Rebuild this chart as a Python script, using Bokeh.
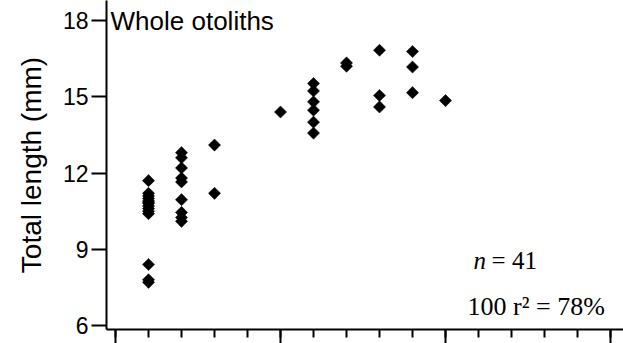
import numpy as np
from bokeh.plotting import figure
from bokeh.models import (Range1d, SingleIntervalTicker, FixedTicker, Label,
                          ColumnDataSource, CustomLabelingPolicy)
from bokeh.embed import file_html
from bokeh.resources import INLINE

# Age class of each fish and its total length (mm)
age_class = [1] * 14 + [2] * 9 + [3] * 2 + [5] + [6] * 6 + [7] * 2 + [8] * 3 + [9] * 3 + [10]
total_length = [
    11.7, 11.2, 11.1, 11.0, 10.9, 10.85, 10.8, 10.7, 10.6, 10.5, 10.4, 8.4, 7.8, 7.7,
    12.8, 12.6, 12.2, 11.8, 11.65, 10.95, 10.45, 10.25, 10.1,
    13.1, 11.2,
    14.4,
    15.52, 15.23, 14.8, 14.47, 14.0, 13.57,
    16.33, 16.2,
    16.83, 15.05, 14.6,
    16.78, 16.17, 15.16,
    14.85,
]
y_ticks = [6, 9, 12, 15, 18]
sample_size = 41
r2_percent = 78

source = ColumnDataSource(dict(x=age_class, y=total_length))

p = figure(
    width=623, height=343,
    output_backend="svg", toolbar_location=None,
    x_range=Range1d(-0.273, 15.394),
    y_range=Range1d(5.843, 18.787),
    min_border_left=106, min_border_right=0, min_border_top=0, min_border_bottom=14,
)
p.outline_line_color = None
p.background_fill_color = "white"
p.border_fill_color = "white"
p.xgrid.visible = False
p.ygrid.visible = False

p.scatter("x", "y", source=source, marker="square", angle=np.pi / 4,
          size=8.6, fill_color="black", line_color="black", line_width=0.5)

# y axis
yax = p.yaxis[0]
yax.ticker = FixedTicker(ticks=y_ticks)
yax.axis_label = "Total length (mm)"
yax.axis_label_text_font = "Liberation Sans"
yax.axis_label_text_font_size = "28px"
yax.axis_label_text_font_style = "normal"
yax.axis_label_text_color = "black"
yax.axis_label_standoff = 13
yax.major_label_text_font = "Liberation Sans"
yax.major_label_text_font_size = "23px"
yax.major_label_text_color = "black"
yax.major_label_standoff = 3
yax.major_tick_out = 15
yax.major_tick_in = 0
yax.minor_tick_out = 0
yax.minor_tick_in = 0
yax.axis_line_width = 2
yax.axis_line_color = "black"
yax.major_tick_line_width = 2
yax.major_tick_line_color = "black"

# x axis: ticks only, the numbering lies below the drawn area
xax = p.xaxis[0]
xax.ticker = SingleIntervalTicker(interval=5, num_minor_ticks=5)
xax.major_label_text_font_size = "0px"
xax.major_label_policy = CustomLabelingPolicy(
    code="return new indices.constructor(indices.size)")
xax.major_label_standoff = 0
xax.major_tick_out = 14
xax.major_tick_in = 0
xax.minor_tick_out = 8
xax.minor_tick_in = 0
xax.axis_line_width = 2
xax.axis_line_color = "black"
xax.major_tick_line_width = 2
xax.minor_tick_line_width = 2
xax.major_tick_line_color = "black"
xax.minor_tick_line_color = "black"

p.add_layout(Label(x=-0.15, y=18.0, text="Whole otoliths",
                   text_font="Liberation Sans", text_font_size="26px",
                   text_baseline="alphabetic", text_color="black"))

p.add_layout(Label(x=10.85, y=8.557, text="n", text_font="Liberation Serif",
                   text_font_style="italic", text_font_size="25px",
                   text_baseline="alphabetic", text_color="black"))
p.add_layout(Label(x=10.85, y=8.557, x_offset=18, text=f"= {sample_size}",
                   text_font="Liberation Serif", text_font_size="25px",
                   text_baseline="alphabetic", text_color="black"))
p.add_layout(Label(x=10.67, y=6.747, text=f"100 r\u00b2 = {r2_percent}%",
                   text_font="Liberation Serif", text_font_size="26px",
                   text_baseline="alphabetic", text_color="black"))

open("out.html", "w").write(file_html(p, INLINE))
